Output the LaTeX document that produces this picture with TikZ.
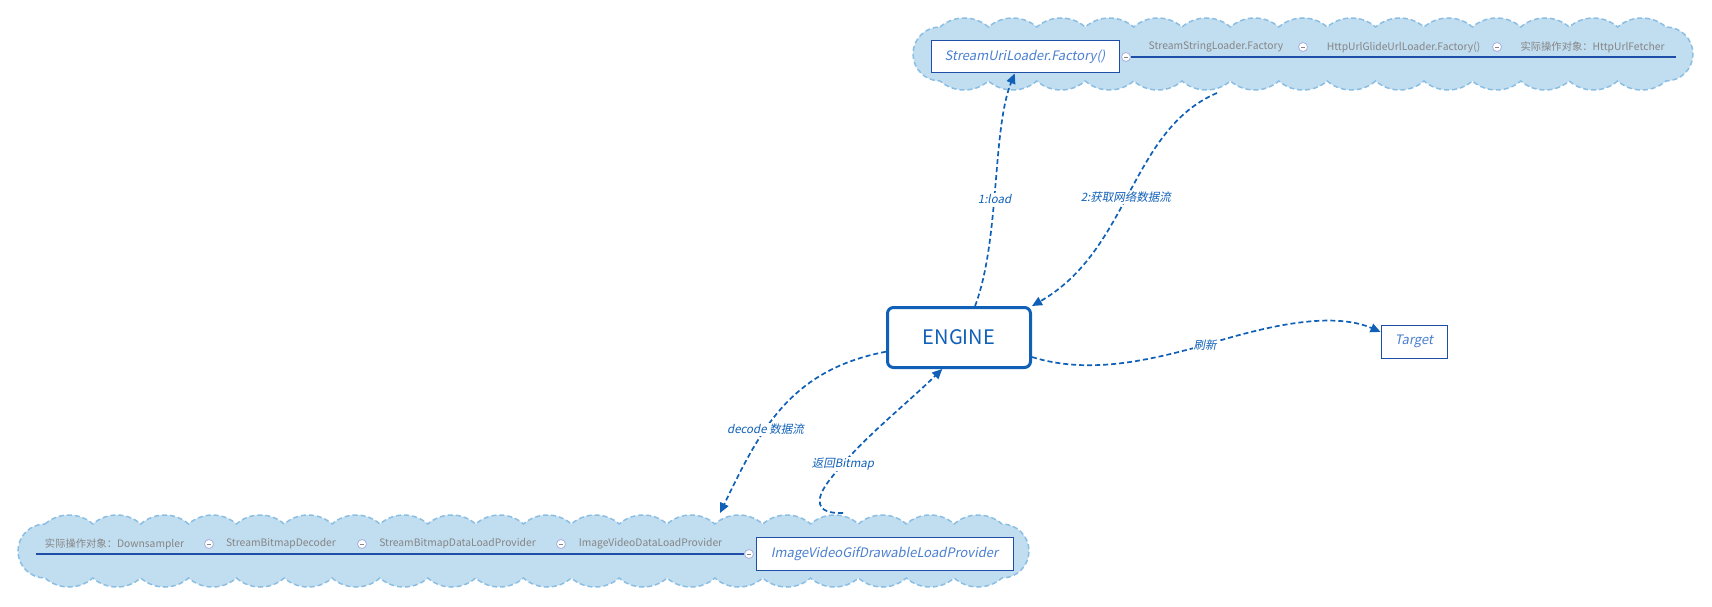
\documentclass[tikz,border=0pt]{standalone}
\usepackage{fontspec}
\setmainfont{Noto Sans CJK SC}
\newfontfamily\slantfont[FakeSlant=0.2]{Noto Sans CJK SC}
\usetikzlibrary{arrows.meta}

\definecolor{flowblue}{HTML}{1060B8}
\definecolor{boxblue}{HTML}{1F4EA9}
\definecolor{boxtext}{HTML}{4A7FD0}
\definecolor{puffill}{HTML}{C1DDF0}
\definecolor{puffline}{HTML}{8BBEE3}
\definecolor{notegray}{HTML}{858585}
\definecolor{dotline}{HTML}{A9B0DC}

\tikzset{
  puff/.style={fill=puffill, draw=puffline, line width=1.5pt, dash pattern=on 5pt off 3pt},
  flow/.style={draw=flowblue, line width=1.7pt, dash pattern=on 5pt off 3pt,
    -{Triangle[length=10pt,width=9pt]}},
  lbl/.style={font=\slantfont\fontsize{11.5}{13}\selectfont, text=flowblue, fill=white, inner sep=1pt},
  note/.style={font=\fontsize{10.3}{12}\selectfont, text=notegray, inner sep=0pt},
  dot/.style={circle, draw=dotline, fill=white, line width=0.8pt, minimum size=9pt, inner sep=0pt,
    path picture={\draw[notegray, line width=0.8pt]
      ([xshift=-2.2pt]path picture bounding box.center) -- ([xshift=2.2pt]path picture bounding box.center);}},
  underline/.style={draw=boxblue, line width=1.2pt}
}

% scalloped band: left x, top y, bumps, bump width
\newcommand\cloudband[4]{%
  \pgfmathsetmacro\bumpr{(#4*#4/4+81)/18}%
  \pgfmathsetmacro\bumpa{asin(#4/2/\bumpr)}%
  \draw[puff] (#1,#2+9)
    \foreach \k in {1,...,#3}{arc[start angle=-90-\bumpa, end angle=-90+\bumpa, radius=\bumpr]}
    arc[start angle=-90, end angle=90, radius=27]
    \foreach \k in {1,...,#3}{arc[start angle=90-\bumpa, end angle=90+\bumpa, radius=\bumpr]}
    arc[start angle=90, end angle=270, radius=27] -- cycle;}

\begin{document}
\begin{tikzpicture}[x=1pt,y=-1pt]
  \useasboundingbox (0,0) rectangle (1712,607);

  % the two bands
  \cloudband{940}{18}{15}{48.4}
  \cloudband{45}{515}{20}{47.85}

  \coordinate (topend)   at (1676,57);
  \coordinate (botstart) at (36,554);
  \coordinate (fetchout) at (1217,93);
  \coordinate (decodein) at (720,513);
  \coordinate (bitmapout) at (843,513);

  % collapse dots
  \begin{scope}[every node/.style={dot}]
    \node (t1) at (1126,57) {};
    \node (t2) at (1303,47) {};
    \node (t3) at (1497,47) {};
    \node (b1) at (209,544) {};
    \node (b2) at (362,544) {};
    \node (b3) at (561,544) {};
    \node (b4) at (749,554) {};
  \end{scope}

  \path[underline] (t1) -- (topend);
  \path[underline] (botstart) -- (b4);

  % chain labels
  \begin{scope}[every node/.style={note}]
    \node (ssl)  at (1216,47)   {StreamStringLoader.Factory};
    \node (hug)  at (1403.5,47) {HttpUrlGlideUrlLoader.Factory()};
    \node (fet)  at (1592.5,47) {实际操作对象：HttpUrlFetcher};
    \node (down) at (114.5,544) {实际操作对象：Downsampler};
    \node (sbd)  at (281,544)   {StreamBitmapDecoder};
    \node (sbp)  at (457.5,544) {StreamBitmapDataLoadProvider};
    \node (ivp)  at (650.5,544) {ImageVideoDataLoadProvider};
  \end{scope}

  % boxes
  \begin{scope}[every node/.style={draw=boxblue, fill=white, line width=1pt, text=boxtext,
      font=\slantfont\fontsize{13}{15}\selectfont, inner sep=0pt}]
    \node[minimum width=188, minimum height=32] (uri)    at (1025,57)     {StreamUriLoader.Factory()};
    \node[minimum width=257, minimum height=33] (gif)    at (884.5,553.5) {ImageVideoGifDrawableLoadProvider};
    \node[minimum width=66,  minimum height=33] (target) at (1414,341.5)  {Target};
  \end{scope}

  \node[draw=flowblue, line width=3pt, rounded corners=6pt, fill=white, text=flowblue,
    minimum width=143, minimum height=60, font=\fontsize{20}{22}\selectfont] (engine) at (959,337.5) {ENGINE};

  % flows
  \draw[flow] (engine.63) .. controls (1000,240) and (992,130) .. node[lbl, pos=0.45] {1:load} (uri.-122);
  \draw[flow] (fetchout) .. controls (1130,130) and (1130,250) .. node[lbl, pos=0.52] {2:获取网络数据流} (engine.north east);
  \draw[flow] (engine.-15) .. controls (1090,375) and (1150,360) .. (1205,345) node[lbl] {刷新}
    .. controls (1260,328) and (1330,310) .. (target.164);
  \draw[flow] (engine.191) .. controls (790,370) and (760,430) .. node[lbl, pos=0.62] {decode 数据流} (decodein);
  \draw[flow] (bitmapout) .. controls (815,514) and (815,500) .. (828,482)
    .. controls (860,440) and (900,410) .. node[lbl, pos=0.15] {返回Bitmap} (engine.-118);

\end{tikzpicture}
\end{document}
